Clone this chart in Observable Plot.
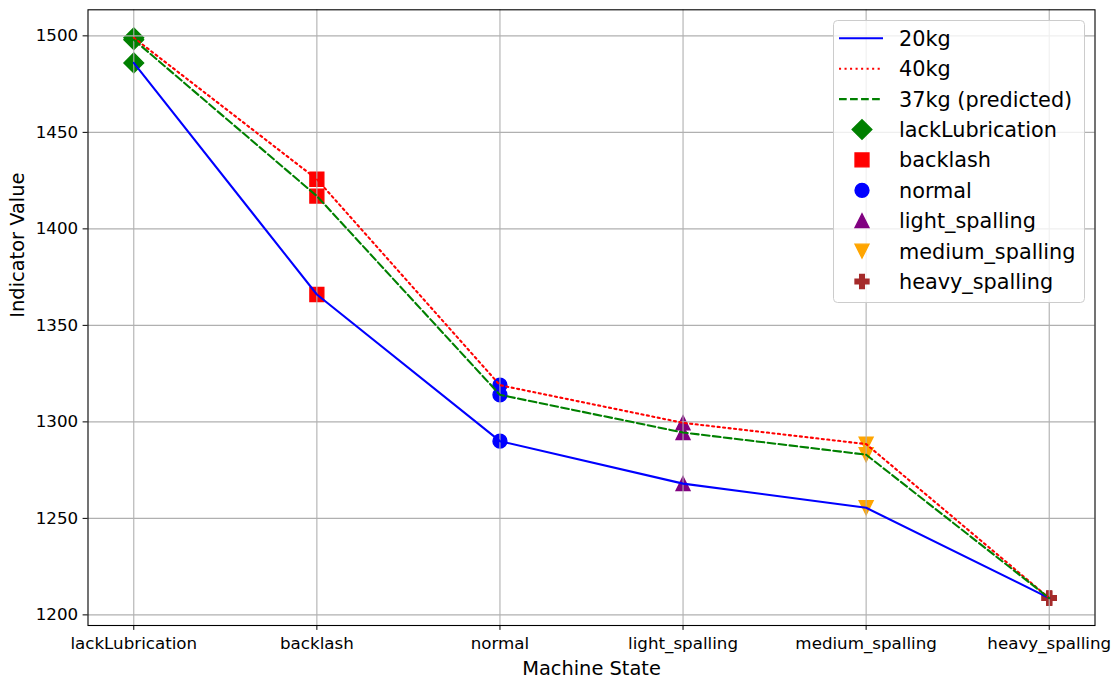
<!DOCTYPE html>
<html>
<head>
<meta charset="utf-8">
<script src="https://cdn.jsdelivr.net/npm/d3@7"></script>
<script src="https://cdn.jsdelivr.net/npm/@observablehq/plot@0.6"></script>
<style>
  body { margin: 0; background: white; }
  #chart { position: relative; width: 1119px; height: 688px; font-family: "DejaVu Sans", sans-serif; }
  #legend { position: absolute; left: 833px; top: 20px; }
</style>
</head>
<body>
<div id="chart"><svg id="legend" width="252" height="283"></svg></div>
<script>
// estados de la máquina (eje x)
const states = ['lackLubrication', 'backlash', 'normal', 'light_spalling', 'medium_spalling', 'heavy_spalling']
// valores del indicador por carga
const load20 = [1486, 1366, 1290, 1268, 1255.5, 1208.7]
const load40 = [1499, 1425.7, 1319, 1299.5, 1288.5, 1208.7]
const load37 = [1498, 1417, 1314, 1294.5, 1283, 1208.7]
const yTicks = [1200, 1250, 1300, 1350, 1400, 1450, 1500]
const seriesNames = ['20kg', '40kg', '37kg (predicted)']

const stateColors = ['green', 'red', 'blue', 'purple', 'orange', 'brown']

// simbolos estilo matplotlib (m = markersize)
const poly = (ctx, pts) => {
  ctx.moveTo(pts[0][0], pts[0][1])
  pts.slice(1).forEach(p => ctx.lineTo(p[0], p[1]))
  ctx.closePath()
}
const msize = size => 2 * Math.sqrt(size / Math.PI)
const symDiamond = { draw(ctx, size) { const h = msize(size) * 0.7071; poly(ctx, [[0, -h], [h, 0], [0, h], [-h, 0]]) } }
const symSquare = { draw(ctx, size) { const h = msize(size) / 2; poly(ctx, [[-h, -h], [h, -h], [h, h], [-h, h]]) } }
const symCircle = { draw(ctx, size) { const h = msize(size) / 2; ctx.moveTo(h, 0); ctx.arc(0, 0, h, 0, 2 * Math.PI) } }
const symTriUp = { draw(ctx, size) { const h = msize(size) / 2; poly(ctx, [[0, -h], [h, h], [-h, h]]) } }
const symTriDown = { draw(ctx, size) { const h = msize(size) / 2; poly(ctx, [[0, h], [h, -h], [-h, -h]]) } }
const symPlus = { draw(ctx, size) {
  const u = msize(size) / 6
  poly(ctx, [[-u, -3 * u], [u, -3 * u], [u, -u], [3 * u, -u], [3 * u, u], [u, u],
    [u, 3 * u], [-u, 3 * u], [-u, u], [-3 * u, u], [-3 * u, -u], [-u, -u]])
} }
const stateSymbols = [symDiamond, symSquare, symCircle, symTriUp, symTriDown, symPlus]

const R = 6.95 // radio -> markersize 13.9px

const rows = (vals) => states.map((s, i) => ({ i, state: s, v: vals[i] }))
const points = [...rows(load20), ...rows(load40), ...rows(load37)]

const lineStyles = [
  { stroke: 'blue' },
  { stroke: 'red', strokeDasharray: '2.08,3.44' },
  { stroke: 'green', strokeDasharray: '7.7,3.33' },
]

let chart = Plot.plot({
  width: 1119,
  height: 688,
  marginLeft: 87.5,
  marginRight: 24.5,
  marginTop: 9.3,
  marginBottom: 63,
  style: { fontFamily: 'DejaVu Sans', fontSize: '16.7px', background: 'white', color: 'black' },
  x: { domain: [-0.25, 5.25] },
  y: { domain: [1194.5, 1513.5] },
  marks: [
    ...states.map((s, k) => Plot.dot(points.filter(d => d.state === s), {
      x: 'i', y: 'v', r: R, symbol: stateSymbols[k],
      fill: stateColors[k], stroke: stateColors[k], strokeWidth: 1.4,
    })),
    Plot.gridX({ ticks: d3.range(states.length), stroke: '#b0b0b0', strokeOpacity: 1, strokeWidth: 1.1 }),
    Plot.gridY({ ticks: yTicks, stroke: '#b0b0b0', strokeOpacity: 1, strokeWidth: 1.1 }),
    ...[load20, load40, load37].map((vals, k) => Plot.line(rows(vals), {
      x: 'i', y: 'v', strokeWidth: 2.08, ...lineStyles[k],
    })),
    Plot.frame({ stroke: 'black', strokeWidth: 1.1 }),
    Plot.axisX({ ticks: d3.range(states.length), tickFormat: i => states[i], tickSize: 4.9, tickPadding: 7, fontSize: 16.7, label: null }),
    Plot.axisY({ ticks: yTicks, tickFormat: d => String(d), tickSize: 4.9, tickPadding: 4.9, fontSize: 16.7, label: null }),
    Plot.text(['Machine State'], { frameAnchor: 'bottom', dy: 49, fontSize: 19.4, fill: 'black' }),
    Plot.text(['Indicator Value'], { frameAnchor: 'left', dx: -70, rotate: -90, fontSize: 19.4, fill: 'black' }),
  ],
})
d3.select('#chart').insert(() => chart, '#legend')

// leyenda
const lg = d3.select('#legend')
lg.append('rect').attr('x', 0.5).attr('y', 0.5).attr('width', 251).attr('height', 282)
  .attr('rx', 4).attr('fill', 'white').attr('fill-opacity', 0.8).attr('stroke', '#cccccc')
const rowY = k => 18.3 + k * 30.4
seriesNames.forEach((name, k) => {
  lg.append('line').attr('x1', 6).attr('x2', 50).attr('y1', rowY(k)).attr('y2', rowY(k))
    .attr('stroke', lineStyles[k].stroke).attr('stroke-width', 2.08)
    .attr('stroke-dasharray', lineStyles[k].strokeDasharray || null)
})
states.forEach((s, k) => {
  lg.append('path').attr('transform', `translate(29,${rowY(k + 3)})`)
    .attr('d', d3.symbol(stateSymbols[k], Math.PI * R * R)())
    .attr('fill', stateColors[k]).attr('stroke', stateColors[k]).attr('stroke-width', 1.4)
})
;[...seriesNames, ...states].forEach((name, k) => {
  lg.append('text').attr('x', 66).attr('y', rowY(k)).attr('dy', '0.36em')
    .attr('font-family', 'DejaVu Sans').attr('font-size', 20.8).attr('fill', 'black').text(name)
})
</script>
</body>
</html>
